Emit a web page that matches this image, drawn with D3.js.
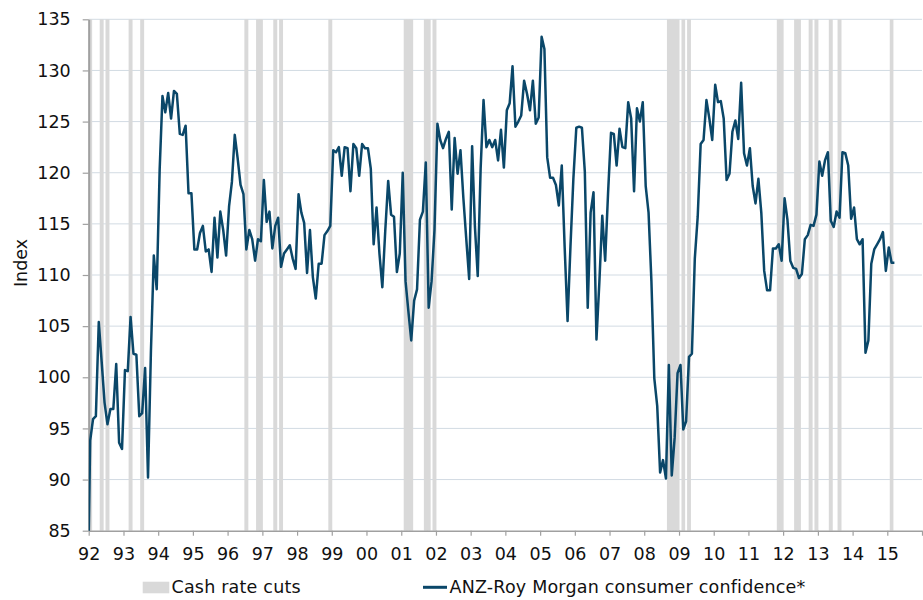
<!DOCTYPE html>
<html><head><meta charset="utf-8">
<script src="https://cdn.jsdelivr.net/npm/d3@7"></script>
<style>body{margin:0;background:#fff}text{font-family:"DejaVu Sans",Verdana,sans-serif}</style>
</head><body><svg id="c" width="923" height="600"></svg>
<script>
// Monthly series, first value is December 1991
const firstMonth = [1991, 11];
const confidence = [
  75,
  93.8, 95.9, 96.2, 105.4, 101.5, 97.5, 95.4, 96.9, 96.9, 101.3, 93.6, 93.0,
  100.7, 100.6, 105.9, 102.3, 102.2, 96.2, 96.5, 100.9, 90.2, 102.5, 111.9, 108.6,
  120.3, 127.5, 125.9, 127.8, 125.3, 128.0, 127.7, 123.8, 123.7, 124.6, 118.0, 118.0,
  112.5, 112.5, 114.1, 114.8, 112.3, 112.5, 110.3, 115.6, 111.7, 116.2, 114.4, 111.9,
  116.7, 119.1, 123.7, 121.4, 118.8, 117.9, 112.5, 114.4, 113.5, 111.4, 113.5, 113.3,
  119.3, 115.2, 116.2, 112.6, 114.8, 115.6, 110.8, 112.1, 112.5, 112.9, 111.6, 110.6,
  117.9, 116.1, 115.1, 110.2, 114.4, 109.8, 107.7, 111.1, 111.1, 113.9, 114.3, 114.8,
  122.2, 122.0, 122.5, 119.7, 122.5, 122.4, 118.2, 122.8, 122.4, 119.7, 122.8, 122.4,
  122.4, 120.4, 113.0, 116.6, 112.1, 108.8, 114.3, 119.2, 115.9, 115.7, 110.3, 112.1,
  120.0, 109.4, 106.5, 103.6, 107.5, 108.6, 115.4, 116.2, 121.0, 106.8, 109.4, 114.4,
  124.8, 123.2, 122.4, 123.3, 124.0, 116.4, 123.4, 119.9, 122.2, 117.5, 113.5, 109.6,
  122.6, 114.7, 109.9, 120.4, 127.1, 122.5, 123.2, 122.5, 123.2, 121.2, 124.2, 120.5,
  126.1, 126.8, 130.4, 124.5, 125.0, 125.6, 129.0, 127.7, 126.1, 129.0, 124.8, 125.4,
  133.3, 132.1, 121.5, 119.5, 119.5, 118.8, 116.8, 120.7, 112.7, 105.5, 112.8, 119.4,
  124.4, 124.5, 124.4, 120.1, 106.8, 116.1, 118.1, 103.7, 109.3, 115.8, 111.4, 118.0,
  123.9, 123.8, 120.7, 124.3, 122.5, 122.4, 126.9, 125.3, 118.2, 126.3, 125.0, 126.9,
  118.7, 116.1, 109.4, 99.9, 97.2, 90.7, 91.9, 90.1, 101.2, 90.4, 94.1, 100.4,
  101.2, 94.9, 95.7, 102.0, 102.3, 111.6, 115.7, 122.8, 123.2, 127.1, 125.3, 123.2,
  128.6, 126.9, 127.0, 125.3, 119.3, 119.9, 124.0, 125.1, 123.3, 128.8, 121.9, 120.7,
  122.4, 118.7, 117.0, 119.4, 116.1, 110.4, 108.5, 108.5, 112.6, 112.6, 113.0, 111.4,
  117.5, 115.4, 111.4, 110.7, 110.6, 109.7, 110.1, 113.5, 113.9, 114.9, 114.8, 115.9,
  121.1, 119.7, 121.2, 122.0, 115.3, 114.7, 116.2, 115.6, 122.0, 121.9, 120.7, 115.5,
  116.6, 113.5, 113.0, 113.5, 102.4, 103.6, 111.1, 112.5, 113.0, 113.5, 114.2, 110.4,
  112.7, 111.2, 111.2
];
const cutMonths = [
  "1992-01","1992-05","1992-07","1993-03","1993-07",
  "1996-07","1996-11","1996-12","1997-05","1997-07","1998-12",
  "2001-02","2001-03","2001-04","2001-09","2001-10","2001-12",
  "2008-09","2008-10","2008-11","2008-12","2009-02","2009-04",
  "2011-11","2011-12","2012-05","2012-06","2012-10","2012-12",
  "2013-05","2013-08","2015-02"
];
const yTicks = [85, 90, 95, 100, 105, 110, 115, 120, 125, 130, 135];
const yearTicks = d3.range(1992, 2017);
const yearLabels = ["92","93","94","95","96","97","98","99","00","01","02","03","04","05","06","07","08","09","10","11","12","13","14","15",""];
const seriesName = "ANZ-Roy Morgan consumer confidence*";
const barName = "Cash rate cuts";

const lineColor = "#0a4769", barColor = "#d9d9d9", gridColor = "#d2dbe3", axisColor = "#a0a0a0";
const L = 88.7, R = 922, T = 19.3, B = 530.7;
const FS = 17.5;
const svg = d3.select("#c");

const x = d3.scaleTime().domain([new Date(1992,0,1), new Date(2016,0,1)]).range([L, R]);
const y = d3.scaleLinear().domain([85, 135]).range([B, T]);

const start = new Date(firstMonth[0], firstMonth[1], 1);
const data = confidence.map((v, i) => {
  const a = d3.timeMonth.offset(start, i), b = d3.timeMonth.offset(start, i + 1);
  return {date: new Date((+a + +b) / 2), v};
});

// grid
svg.append("g").selectAll("line").data(yTicks.filter(d => d > 85)).join("line")
  .attr("x1", L).attr("x2", R).attr("y1", d => y(d)).attr("y2", d => y(d))
  .attr("stroke", gridColor).attr("stroke-width", 1);

// cut bars
svg.append("g").selectAll("rect").data(cutMonths).join("rect")
  .attr("x", d => { const [yy, mm] = d.split("-").map(Number); return x(new Date(yy, mm - 1, 1)) - 0.5; })
  .attr("width", d => { const [yy, mm] = d.split("-").map(Number); return x(new Date(yy, mm, 1)) - x(new Date(yy, mm - 1, 1)) + 1; })
  .attr("y", T).attr("height", B - T).attr("fill", barColor);

// axes
const xAxis = svg.append("g").attr("transform", `translate(0,${B})`)
  .call(d3.axisBottom(x).tickValues(yearTicks.map(yy => new Date(yy, 0, 1)))
    .tickFormat((d, i) => yearLabels[i]).tickSize(5).tickSizeOuter(0).tickPadding(11.4));
xAxis.select(".domain").attr("stroke", axisColor).attr("stroke-width", 1.5);
xAxis.selectAll(".tick line").attr("stroke", axisColor).attr("stroke-width", 1.2);
xAxis.selectAll("text").attr("font-size", FS).attr("fill", "#111").style("font-family", '"DejaVu Sans",sans-serif');

const yAxis = svg.append("g").attr("transform", `translate(${L},0)`)
  .call(d3.axisLeft(y).tickValues(yTicks).tickFormat(d3.format("d")).tickSize(6).tickSizeOuter(0).tickPadding(12));
yAxis.select(".domain").attr("stroke", axisColor).attr("stroke-width", 2);
yAxis.selectAll(".tick line").attr("stroke", axisColor).attr("stroke-width", 1.2);
yAxis.selectAll("text").attr("font-size", FS).attr("fill", "#111").style("font-family", '"DejaVu Sans",sans-serif');

// line
svg.append("clipPath").attr("id", "clip").append("rect").attr("x", L).attr("y", 0).attr("width", R - L).attr("height", B);
svg.append("path").datum(data).attr("clip-path", "url(#clip)")
  .attr("fill", "none").attr("stroke", lineColor).attr("stroke-width", 2.5).attr("stroke-linejoin", "round")
  .attr("d", d3.line().x(d => x(d.date)).y(d => y(d.v)));

// y title
svg.append("text").attr("transform", "translate(27,263) rotate(-90)").attr("text-anchor", "middle")
  .attr("font-size", FS).attr("fill", "#111").text("Index");

// legend
svg.append("rect").attr("x", 142.7).attr("y", 581.7).attr("width", 26.6).attr("height", 11.6).attr("fill", barColor);
svg.append("text").attr("x", 171.5).attr("y", 593).attr("font-size", FS).attr("letter-spacing", 0.2).attr("fill", "#111").text(barName);
svg.append("line").attr("x1", 423).attr("x2", 447).attr("y1", 587.3).attr("y2", 587.3).attr("stroke", lineColor).attr("stroke-width", 3);
svg.append("text").attr("x", 449.5).attr("y", 593).attr("font-size", FS).attr("letter-spacing", 0.2).attr("fill", "#111").text(seriesName);
</script></body></html>
